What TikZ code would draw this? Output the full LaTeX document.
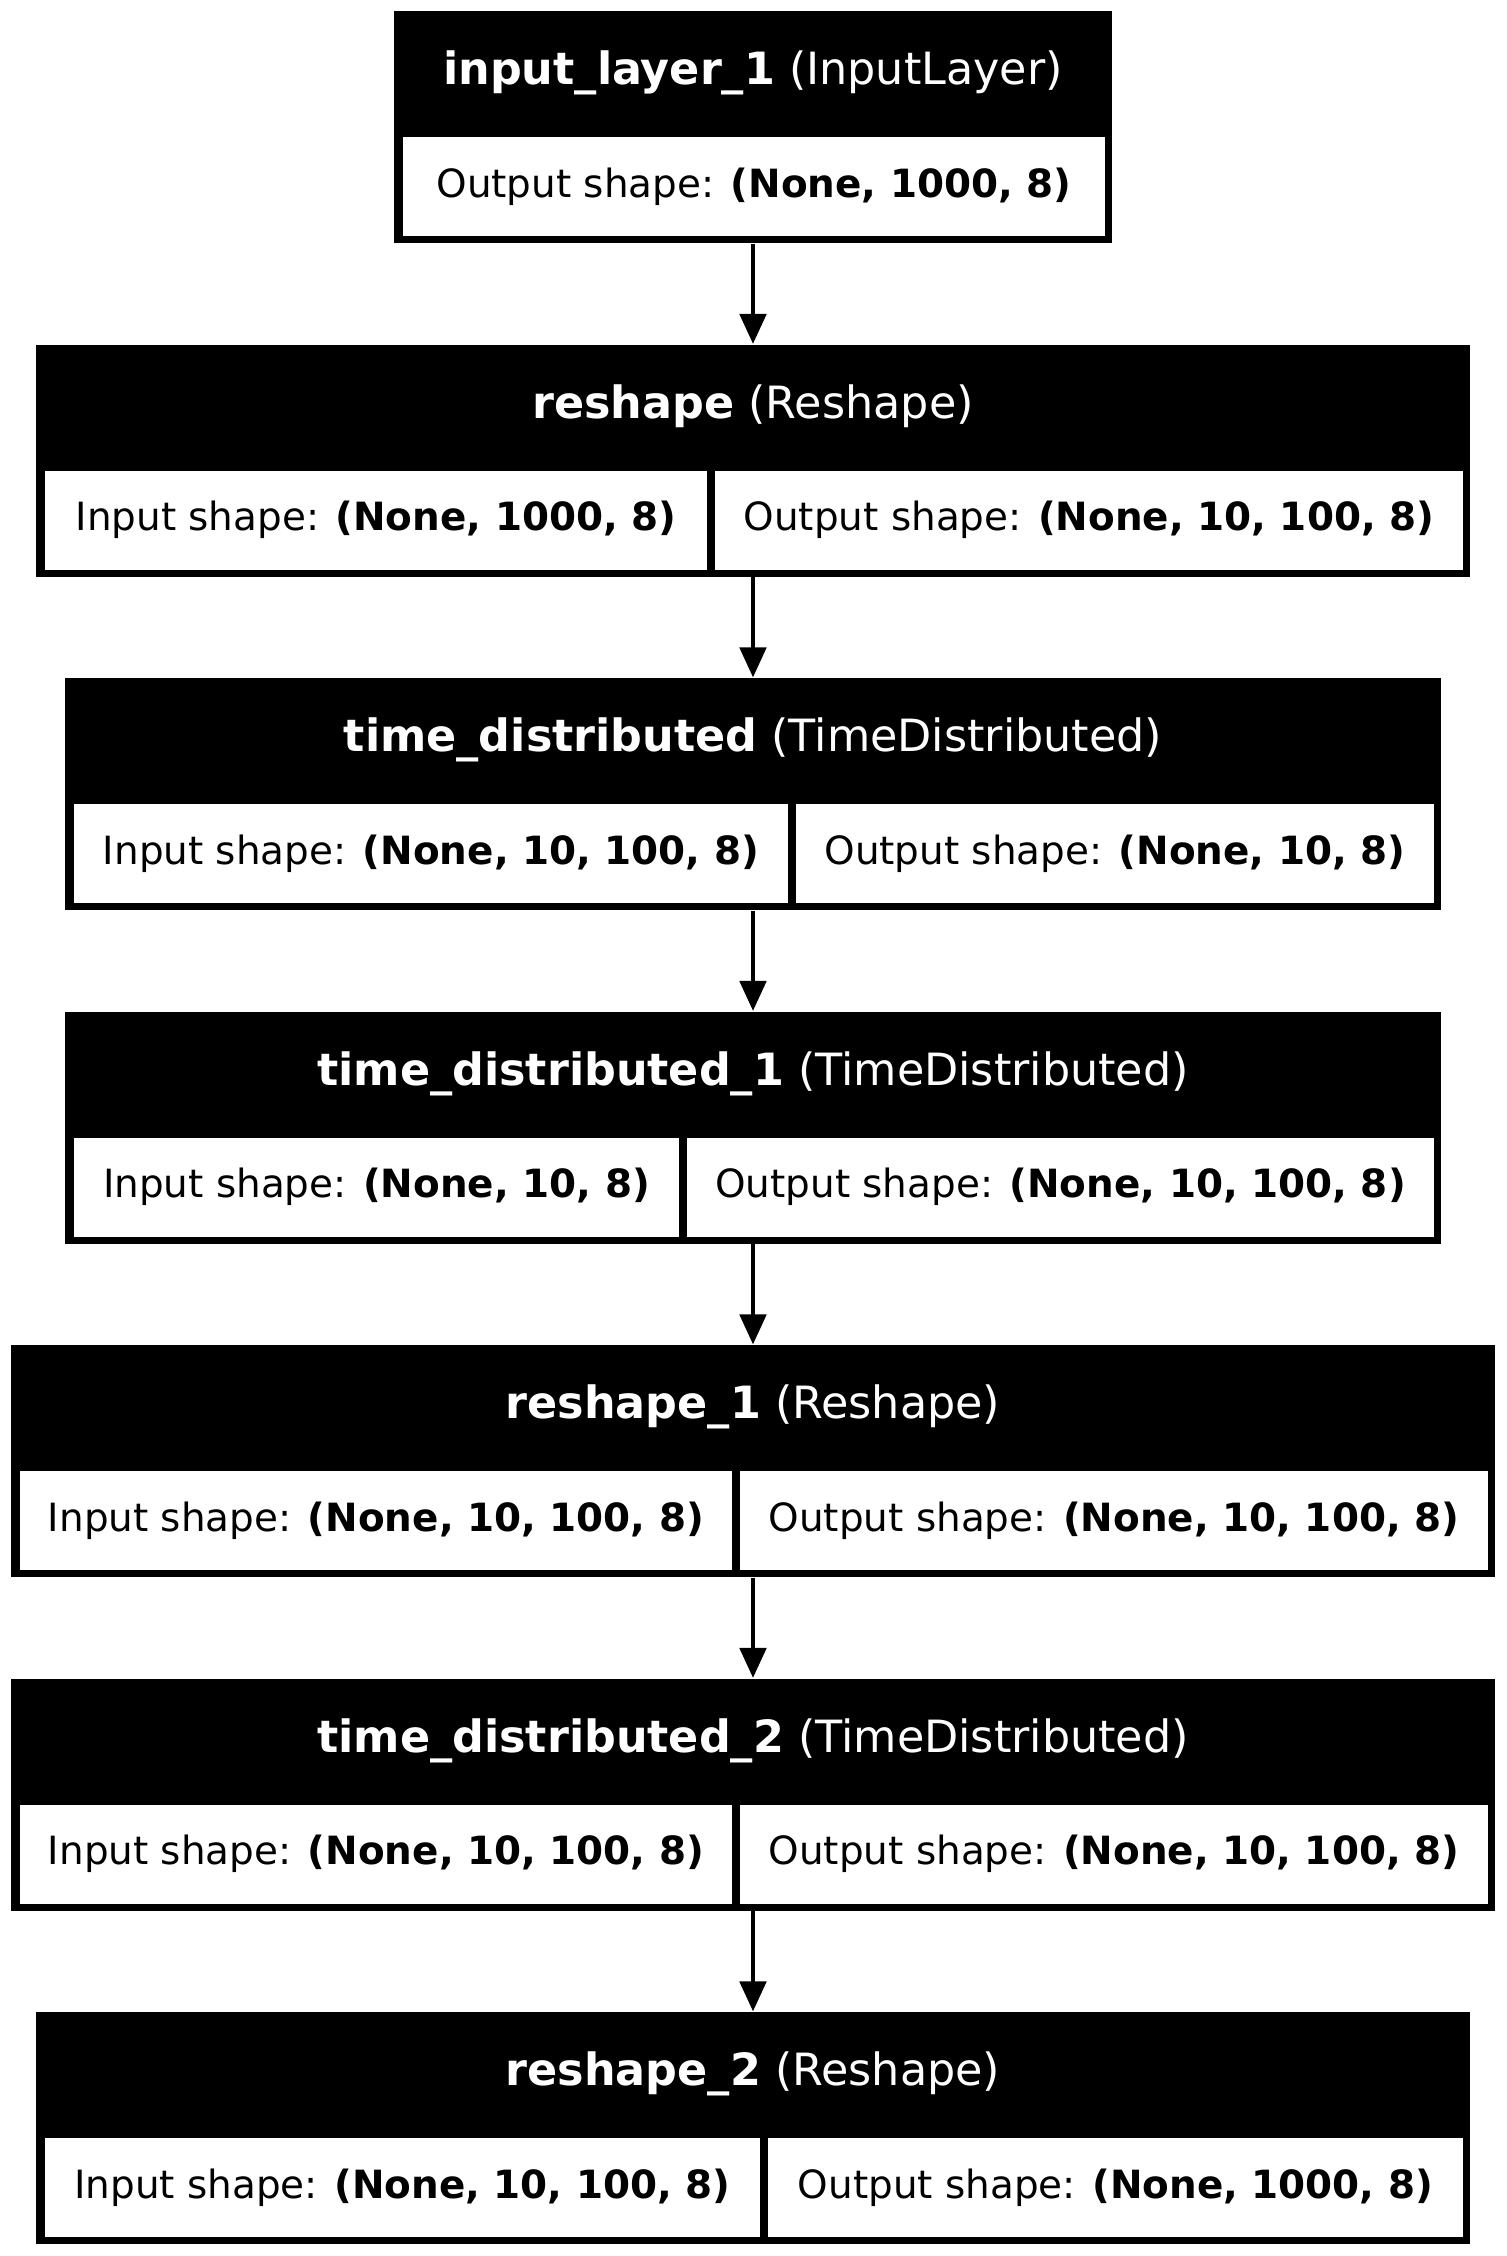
\documentclass[tikz,border=0pt]{standalone}
\usepackage{fontspec}
\setmainfont{DejaVu Sans}
\usetikzlibrary{fit,arrows.meta}
\tikzset{
  outerbox/.style={fill=black, draw=none, inner sep=0pt},
  cellbox/.style={fill=white, draw=none, inner sep=0pt},
  celltxt/.style={inner sep=0pt, text=black, font=\fontsize{14}{17}\selectfont},
  headtxt/.style={inner sep=0pt, text=white, font=\fontsize{16}{19}\selectfont},
  arr/.style={line width=1.7pt, -{Triangle[length=10.8pt, width=9.4pt]}}
}
% #1 name, #2 top, #3 half width, #4 header, #5 cell text
\newcommand\layerone[5]{%
  \node[outerbox, fit={({753-#3},#2) ({753+#3},{#2+232})}] (#1) {};
  \node[headtxt] (#1-h) at (753,{#2+62}) {#4};
  \node[cellbox, fit={({753-#3+9},{#2+126}) ({753+#3-7},{#2+225})}] (#1-c) {};
  \node[celltxt] (#1-ct) at (#1-c.center) {#5};
}
% #1 name, #2 top, #3 half width, #4 split x, #5 header, #6 left text, #7 right text
\newcommand\layertwo[7]{%
  \node[outerbox, fit={({753-#3},#2) ({753+#3},{#2+232})}] (#1) {};
  \node[headtxt] (#1-h) at (753,{#2+62}) {#5};
  \node[cellbox, fit={({753-#3+9},{#2+126}) ({#4-4},{#2+225})}] (#1-l) {};
  \node[cellbox, fit={({#4+4},{#2+126}) ({753+#3-7},{#2+225})}] (#1-r) {};
  \node[celltxt] (#1-lt) at (#1-l.center) {#6};
  \node[celltxt] (#1-rt) at (#1-r.center) {#7};
}
\begin{document}
\begin{tikzpicture}[x=0.36pt, y=-0.36pt]
\useasboundingbox[fill=white] (0,0) rectangle (1506,2256);
\layerone{b1}{11}{359}{\textbf{input\_layer\_1} (InputLayer)}{Output shape: \textbf{(None, 1000, 8)}}
\layertwo{b2}{344.5}{717}{711}{\textbf{reshape} (Reshape)}{Input shape: \textbf{(None, 1000, 8)}}{Output shape: \textbf{(None, 10, 100, 8)}}
\layertwo{b3}{678}{688}{792}{\textbf{time\_distributed} (TimeDistributed)}{Input shape: \textbf{(None, 10, 100, 8)}}{Output shape: \textbf{(None, 10, 8)}}
\layertwo{b4}{1011.5}{688}{683}{\textbf{time\_distributed\_1} (TimeDistributed)}{Input shape: \textbf{(None, 10, 8)}}{Output shape: \textbf{(None, 10, 100, 8)}}
\layertwo{b5}{1345}{742}{736}{\textbf{reshape\_1} (Reshape)}{Input shape: \textbf{(None, 10, 100, 8)}}{Output shape: \textbf{(None, 10, 100, 8)}}
\layertwo{b6}{1678.5}{742}{736}{\textbf{time\_distributed\_2} (TimeDistributed)}{Input shape: \textbf{(None, 10, 100, 8)}}{Output shape: \textbf{(None, 10, 100, 8)}}
\layertwo{b7}{2012}{717}{764}{\textbf{reshape\_2} (Reshape)}{Input shape: \textbf{(None, 10, 100, 8)}}{Output shape: \textbf{(None, 1000, 8)}}
\draw[arr] (b1.south) -- (b2.north);
\draw[arr] (b2.south) -- (b3.north);
\draw[arr] (b3.south) -- (b4.north);
\draw[arr] (b4.south) -- (b5.north);
\draw[arr] (b5.south) -- (b6.north);
\draw[arr] (b6.south) -- (b7.north);
\end{tikzpicture}
\end{document}
